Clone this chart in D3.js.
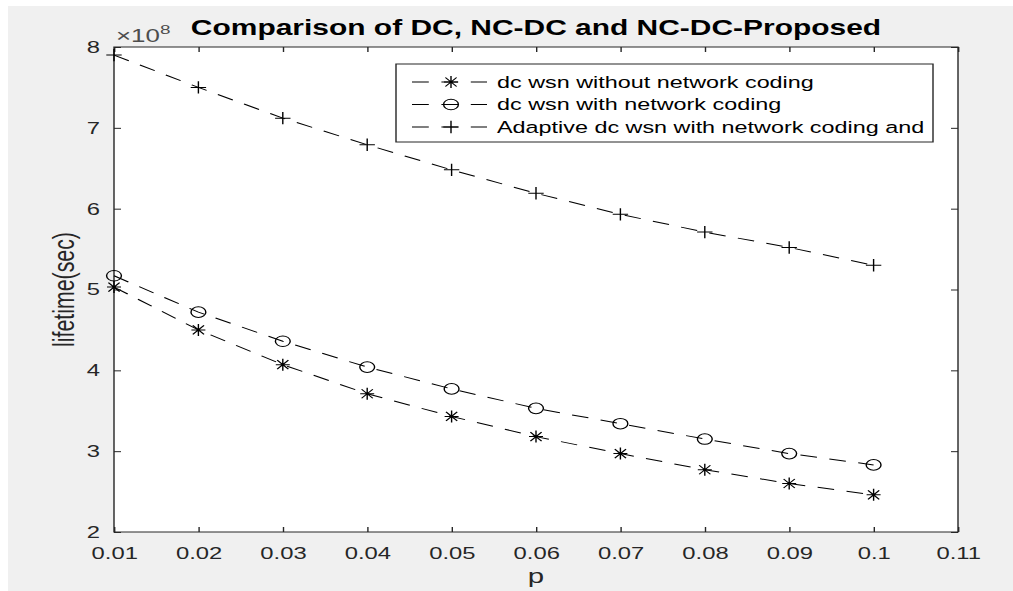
<!DOCTYPE html>
<html>
<head lang="en">
    <meta charset="UTF-8">
    <title>Comparison of DC, NC-DC and NC-DC-Proposed</title>
    <script type="text/javascript" src="https://cdn.jsdelivr.net/npm/d3@7/dist/d3.min.js"></script>
    <style>
        body { margin: 0; background: #fff; }
        svg { display: block; }
        text { font-family: "Liberation Sans", Arial, Helvetica, sans-serif; }
    </style>
</head>
<body>
<svg id="chart"></svg>

<script>
    // values (lifetime in units of 1e8 sec)
    var pValues = [0.01, 0.02, 0.03, 0.04, 0.05, 0.06, 0.07, 0.08, 0.09, 0.1];
    var dcWithoutNc = [5.03, 4.50, 4.07, 3.71, 3.43, 3.18, 2.97, 2.77, 2.60, 2.46];
    var dcWithNc = [5.17, 4.72, 4.36, 4.04, 3.77, 3.53, 3.34, 3.15, 2.97, 2.83];
    var adaptiveDc = [7.90, 7.50, 7.12, 6.79, 6.48, 6.19, 5.93, 5.71, 5.52, 5.30];
    var xTicks = [0.01, 0.02, 0.03, 0.04, 0.05, 0.06, 0.07, 0.08, 0.09, 0.1, 0.11];
    var yTicks = [2, 3, 4, 5, 6, 7, 8];
    var seriesNames = ["dc wsn without network coding", "dc wsn with network coding",
        "Adaptive dc wsn with network coding and"];

    var W = 1013, H = 591;
    var S = 1.4; // the whole figure is stretched sideways, so draw narrow and stretch
    var ink = "#262626";

    var svg = d3.select("#chart")
            .attr("width", W)
            .attr("height", H)
            .attr("viewBox", "0 0 " + (W / S) + " " + H)
            .attr("preserveAspectRatio", "none");

    // note: "top" is taken by window.top, so use other names
    var plotL = 114 / S, plotR = 958 / S, plotT = 47, plotB = 532;

    var x = d3.scaleLinear().domain([0.01, 0.11]).range([plotL, plotR]);
    var y = d3.scaleLinear().domain([2, 8]).range([plotB, plotT]);

    // figure background (thin white edge on top and left)
    svg.append("rect").attr("width", W / S).attr("height", H).attr("fill", "#f0f0f0");
    svg.append("rect").attr("width", W / S).attr("height", 6).attr("fill", "#fff");
    svg.append("rect").attr("width", 8 / S).attr("height", H).attr("fill", "#fff");

    svg.append("rect")
            .attr("x", plotL).attr("y", plotT)
            .attr("width", plotR - plotL).attr("height", plotB - plotT)
            .attr("fill", "#fff");

    // axes, ticks pointing inward on all four sides
    function styleAxis(g) {
        g.select(".domain").remove();
        g.selectAll(".tick line").attr("stroke", ink);
        g.selectAll(".tick text").attr("fill", ink).attr("font-size", 17);
    }

    svg.append("g")
            .attr("transform", "translate(0," + plotB + ")")
            .call(d3.axisBottom(x).tickValues(xTicks).tickFormat(d3.format("~g"))
                    .tickSizeInner(-5).tickSizeOuter(0).tickPadding(15))
            .call(styleAxis);

    svg.append("g")
            .attr("transform", "translate(0," + plotT + ")")
            .call(d3.axisTop(x).tickValues(xTicks).tickFormat("")
                    .tickSizeInner(-5).tickSizeOuter(0))
            .call(styleAxis);

    svg.append("g")
            .attr("transform", "translate(" + plotL + ",0)")
            .call(d3.axisLeft(y).tickValues(yTicks).tickFormat(d3.format("d"))
                    .tickSizeInner(-5).tickSizeOuter(0).tickPadding(10))
            .call(styleAxis);

    svg.append("g")
            .attr("transform", "translate(" + plotR + ",0)")
            .call(d3.axisRight(y).tickValues(yTicks).tickFormat("")
                    .tickSizeInner(-5).tickSizeOuter(0))
            .call(styleAxis);

    svg.append("rect")
            .attr("x", plotL).attr("y", plotT)
            .attr("width", plotR - plotL).attr("height", plotB - plotT)
            .attr("fill", "none")
            .attr("stroke", ink)
            .attr("stroke-width", 1);

    // exponent
    var expo = svg.append("text")
            .attr("x", 116 / S).attr("y", 42)
            .attr("font-size", 18.5)
            .attr("fill", "#4d4d4d")
            .text("\u00d710");
    expo.append("tspan").attr("dy", -8).attr("font-size", 13.5).text("8");

    // title and labels
    svg.append("text")
            .attr("x", (plotL + plotR) / 2).attr("y", 35)
            .attr("text-anchor", "middle")
            .attr("font-size", 21.4)
            .attr("font-weight", "bold")
            .attr("fill", "#000")
            .text("Comparison of DC, NC-DC and NC-DC-Proposed");

    svg.append("text")
            .attr("x", (plotL + plotR) / 2).attr("y", 583)
            .attr("text-anchor", "middle")
            .attr("font-size", 21)
            .attr("fill", ink)
            .text("p");

    svg.append("text")
            .attr("transform", "translate(" + (74 / S) + "," + ((plotT + plotB) / 2) + ") rotate(-90)")
            .attr("text-anchor", "middle")
            .attr("font-size", 21.3)
            .attr("fill", ink)
            .text("lifetime(sec)");

    // markers
    var markers = {
        star: "M-5,0H5M0,-6V6M-4,-4.5L4,4.5M-4,4.5L4,-4.5",
        plus: "M-5.5,0H5.5M0,-6.2V6.2"
    };

    function drawMarker(g, kind) {
        if (kind === "circle") {
            g.append("circle").attr("r", 5.3).attr("fill", "none")
                    .attr("stroke", "#000").attr("stroke-width", 1);
        } else {
            g.append("path").attr("d", markers[kind]).attr("fill", "none")
                    .attr("stroke", "#000").attr("stroke-width", 1);
        }
    }

    var series = [
        {name: seriesNames[0], values: dcWithoutNc, marker: "star"},
        {name: seriesNames[1], values: dcWithNc, marker: "circle"},
        {name: seriesNames[2], values: adaptiveDc, marker: "plus"}
    ];

    var line = d3.line()
            .x(function (d) { return x(d[0]); })
            .y(function (d) { return y(d[1]); });

    series.forEach(function (s) {
        var pts = pValues.map(function (p, i) { return [p, s.values[i]]; });
        svg.append("path")
                .datum(pts)
                .attr("d", line)
                .attr("fill", "none")
                .attr("stroke", "#000")
                .attr("stroke-width", 1)
                .attr("stroke-dasharray", "12,9");

        svg.selectAll(null)
                .data(pts)
                .enter()
                .append("g")
                .attr("transform", function (d) {
                    return "translate(" + x(d[0]) + "," + y(d[1]) + ")";
                })
                .each(function () { drawMarker(d3.select(this), s.marker); });
    });

    // legend
    var legend = svg.append("g");
    legend.append("rect")
            .attr("x", 396 / S).attr("y", 64)
            .attr("width", (933 - 396) / S).attr("height", 78)
            .attr("fill", "#fff")
            .attr("stroke", ink)
            .attr("stroke-width", 1);

    var rowY = [82, 104.5, 127];
    series.forEach(function (s, i) {
        var row = legend.append("g").attr("transform", "translate(0," + rowY[i] + ")");
        row.append("line")
                .attr("x1", 412 / S).attr("x2", 487 / S)
                .attr("stroke", "#000")
                .attr("stroke-width", 1)
                .attr("stroke-dasharray", "12,9");
        drawMarker(row.append("g").attr("transform", "translate(" + (451 / S) + ",0)"), s.marker);
        row.append("text")
                .attr("x", 497 / S)
                .attr("dy", "0.35em")
                .attr("font-size", 16.7)
                .attr("fill", "#000")
                .text(s.name);
    });
</script>
</body>
</html>
